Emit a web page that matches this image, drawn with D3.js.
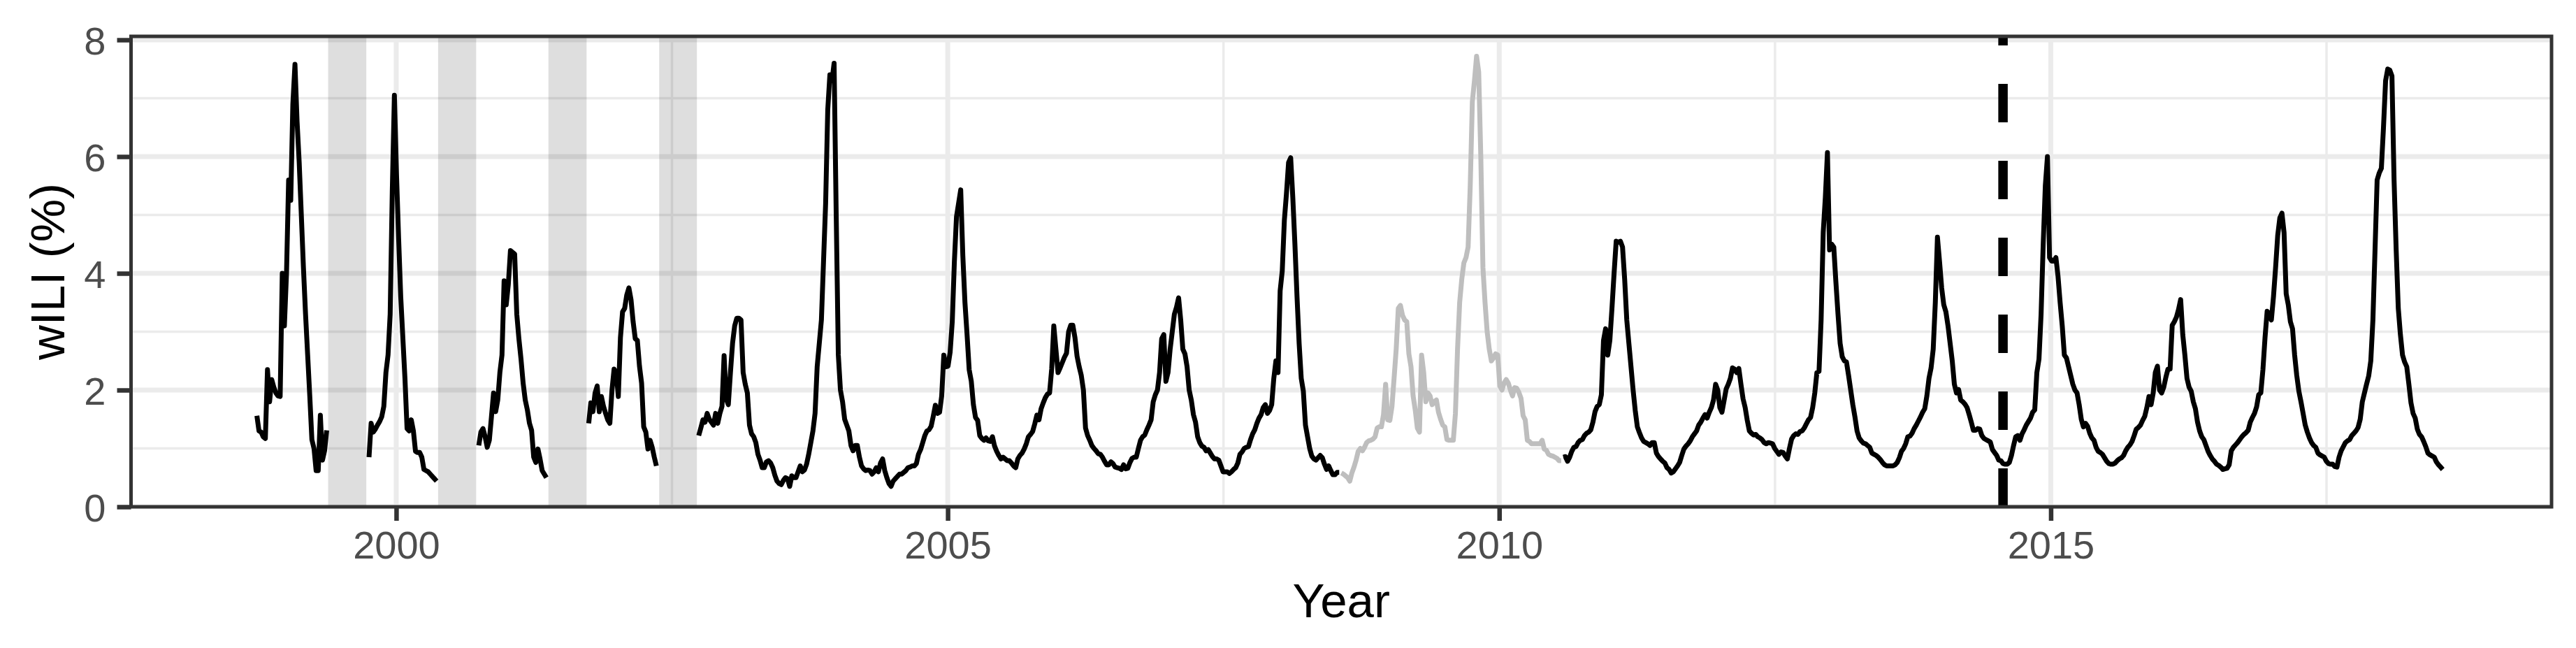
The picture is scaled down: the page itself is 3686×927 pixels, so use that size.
<!DOCTYPE html>
<html><head><meta charset="utf-8">
<script src="https://cdn.jsdelivr.net/npm/d3@7"></script>
<style>html,body{margin:0;padding:0;background:#fff;} svg{display:block;}</style>
</head><body>
<svg id="chart" width="3686" height="927"></svg>
<script>
// ---------------- DATA (weekly wILI %) ----------------
// early seasons: only reported from week 40 to week 20
const s1998 = [1.56,1.30,1.28,1.20,1.17,2.35,1.80,2.18,2.05,1.95,1.90,1.89,4.0,3.1,4.0,5.6,5.25,6.9,7.58,6.6,5.9,5.0,4.1,3.3,2.6,1.9,1.15,1.0,0.62,0.62,1.57,0.8,0.96,1.31];
const s1999 = [0.85,1.43,1.28,1.33,1.40,1.46,1.54,1.72,2.3,2.6,3.3,5.4,7.05,5.7,4.6,3.6,2.9,2.2,1.34,1.30,1.49,1.3,0.95,0.93,0.93,0.85,0.64,0.62,0.6,0.56,0.52,0.48,0.44];
const s2000 = [1.05,1.28,1.34,1.2,1.02,1.14,1.54,1.95,1.63,1.83,2.3,2.6,3.87,3.46,3.81,4.39,4.36,4.33,3.3,2.88,2.53,2.12,1.83,1.66,1.43,1.31,0.85,0.76,0.99,0.82,0.62,0.56,0.50];
const s2001 = [1.43,1.78,1.63,1.95,2.07,1.63,1.89,1.72,1.6,1.49,1.43,2.0,2.36,2.3,1.89,2.9,3.34,3.4,3.63,3.75,3.55,3.17,2.88,2.85,2.41,2.12,1.37,1.28,0.99,1.14,1.02,0.85,0.70];
// year-round reporting from week 40 of 2002
const s2002 = [1.22,1.35,1.49,1.45,1.6,1.5,1.45,1.4,1.6,1.43,1.6,1.72,2.59,1.85,1.75,2.3,2.8,3.1,3.23,3.23,3.2,2.3,2.1,1.95,1.4,1.25,1.2,1.1,0.9,0.8,0.67,0.67,0.77,0.79,0.75,0.67,0.54,0.44,0.4,0.38,0.45,0.5,0.48];
const s2003 = [0.35,0.53,0.5,0.5,0.6,0.7,0.6,0.63,0.73,0.9,1.1,1.3,1.6,2.4,2.8,3.2,4.2,5.2,6.8,7.4,7.3,7.6,5.0,2.6,2.0,1.8,1.5,1.4,1.3,1.05,0.96,1.05,1.05,0.85,0.7,0.65,0.62,0.63,0.62,0.56,0.6,0.67,0.6,0.75,0.82,0.62,0.5,0.4,0.35,0.44,0.48,0.52,0.56];
const s2004 = [0.56,0.59,0.62,0.67,0.68,0.7,0.7,0.74,0.9,0.98,1.1,1.22,1.3,1.32,1.38,1.55,1.74,1.6,1.62,1.9,2.6,2.4,2.41,2.65,3.17,4.2,4.97,5.2,5.43,4.3,3.5,2.95,2.35,2.15,1.75,1.53,1.48,1.22,1.17,1.14,1.18,1.13,1.12,1.2,1.04,0.95,0.88,0.82,0.85,0.82,0.79,0.79];
const s2005 = [0.75,0.7,0.67,0.82,0.88,0.92,0.99,1.08,1.2,1.24,1.29,1.42,1.57,1.49,1.68,1.78,1.87,1.93,1.95,2.36,3.1,2.7,2.3,2.38,2.47,2.56,2.63,3.0,3.11,3.11,2.9,2.58,2.4,2.25,2.0,1.35,1.22,1.14,1.05,1.0,0.96,0.91,0.9,0.85,0.78,0.72,0.72,0.77,0.74,0.68,0.67,0.66];
const s2006 = [0.64,0.72,0.65,0.66,0.76,0.83,0.85,0.85,1.0,1.14,1.2,1.23,1.32,1.4,1.49,1.8,1.92,2.0,2.3,2.88,2.95,2.15,2.3,2.7,3.0,3.3,3.42,3.58,3.2,2.7,2.62,2.4,2.0,1.83,1.58,1.45,1.2,1.1,1.04,1.02,0.96,0.98,0.92,0.86,0.82,0.82,0.8,0.7,0.6,0.6,0.6,0.57];
const s2007 = [0.6,0.64,0.67,0.75,0.9,0.94,1.0,1.02,1.03,1.15,1.25,1.32,1.43,1.52,1.58,1.7,1.75,1.6,1.65,1.75,2.2,2.5,2.3,3.7,4.04,4.91,5.37,5.9,5.98,5.3,4.5,3.6,2.8,2.2,1.98,1.4,1.2,1.0,0.87,0.82,0.8,0.84,0.88,0.84,0.73,0.64,0.7,0.62,0.55,0.55,0.59,0.59];
const s2008 = [0.58,0.56,0.53,0.5,0.44,0.58,0.68,0.8,0.95,1.0,0.96,1.02,1.1,1.13,1.14,1.16,1.2,1.35,1.37,1.37,1.58,2.1,1.49,1.48,1.72,2.2,2.7,3.4,3.45,3.28,3.2,3.17,2.62,2.4,1.9,1.66,1.35,1.28,2.6,2.3,1.8,1.95,1.9,1.75,1.8,1.83,1.62,1.5,1.4,1.37,1.15,1.14,1.14];
const s2009 = [1.14,1.6,2.7,3.5,3.9,4.18,4.27,4.45,5.5,6.94,7.3,7.72,7.45,6.0,4.1,3.5,3.0,2.7,2.5,2.55,2.62,2.6,2.07,2.0,2.12,2.18,2.12,2.0,1.9,2.04,2.03,1.96,1.86,1.56,1.49,1.14,1.12,1.08,1.08,1.08,1.08,1.08,1.14,0.99,0.97,0.9,0.88,0.87,0.85,0.83,0.79,0.79];
const s2010 = [0.85,0.86,0.78,0.85,0.95,1.02,1.03,1.1,1.14,1.15,1.22,1.26,1.28,1.32,1.45,1.63,1.72,1.75,1.92,2.85,3.05,2.6,2.85,3.4,4.0,4.55,4.53,4.55,4.45,3.9,3.2,2.8,2.4,2.0,1.65,1.37,1.27,1.18,1.12,1.1,1.08,1.05,1.1,1.1,0.92,0.86,0.82,0.78,0.75,0.67,0.64,0.58];
const s2011 = [0.6,0.65,0.7,0.76,0.88,0.99,1.04,1.08,1.13,1.2,1.25,1.3,1.4,1.45,1.52,1.58,1.52,1.62,1.7,1.83,2.1,2.0,1.7,1.62,1.82,2.02,2.1,2.2,2.38,2.36,2.3,2.37,2.1,1.85,1.7,1.48,1.3,1.26,1.23,1.24,1.2,1.18,1.15,1.1,1.08,1.1,1.09,1.08,1.0,0.95,0.9,0.94];
const s2012 = [0.93,0.87,0.82,1.0,1.16,1.22,1.25,1.24,1.29,1.3,1.35,1.42,1.49,1.53,1.7,1.95,2.3,2.32,3.2,4.7,5.3,6.07,4.4,4.5,4.45,3.85,3.3,2.8,2.57,2.5,2.48,2.25,2.0,1.75,1.54,1.3,1.18,1.13,1.09,1.08,1.05,1.02,0.92,0.9,0.88,0.85,0.81,0.76,0.72,0.7,0.7,0.7];
const s2013 = [0.7,0.72,0.76,0.84,0.95,1.0,1.08,1.2,1.21,1.26,1.34,1.4,1.47,1.54,1.62,1.68,1.9,2.2,2.38,2.7,3.5,4.62,4.2,3.75,3.46,3.34,3.1,2.8,2.5,2.1,1.95,2.01,1.83,1.8,1.76,1.7,1.58,1.45,1.31,1.31,1.34,1.33,1.22,1.17,1.15,1.13,1.11,0.98,0.93,0.88,0.8,0.79];
const s2014 = [0.74,0.73,0.73,0.76,0.88,1.05,1.2,1.22,1.14,1.25,1.32,1.4,1.46,1.52,1.62,1.66,2.3,2.53,3.3,4.5,5.5,6.0,4.27,4.21,4.21,4.27,3.95,3.5,3.1,2.6,2.55,2.4,2.25,2.1,2.0,1.95,1.75,1.5,1.37,1.43,1.38,1.26,1.18,1.14,1.02,0.95,0.93,0.9,0.84,0.78,0.74,0.73,0.73];
const s2015 = [0.75,0.79,0.82,0.84,0.88,0.96,1.02,1.06,1.12,1.22,1.33,1.36,1.4,1.48,1.55,1.7,1.89,1.75,1.95,2.3,2.41,2.0,1.95,2.05,2.22,2.36,2.36,3.11,3.17,3.25,3.38,3.55,2.95,2.6,2.2,2.05,1.98,1.8,1.68,1.45,1.3,1.2,1.15,1.05,0.95,0.88,0.82,0.78,0.73,0.71,0.68,0.64];
const s2016 = [0.65,0.66,0.72,0.96,1.02,1.06,1.1,1.15,1.2,1.24,1.27,1.31,1.45,1.53,1.6,1.71,1.92,1.95,2.35,2.9,3.35,3.3,3.2,3.6,4.1,4.65,4.95,5.03,4.7,3.65,3.46,3.17,3.05,2.6,2.25,1.98,1.8,1.6,1.4,1.28,1.18,1.1,1.05,1.02,0.92,0.89,0.87,0.85,0.78,0.74,0.73,0.73];
const s2017 = [0.69,0.68,0.85,0.96,1.03,1.1,1.13,1.15,1.22,1.26,1.3,1.36,1.5,1.8,1.95,2.1,2.24,2.5,3.2,4.4,5.6,5.72,5.8,6.5,7.3,7.5,7.48,7.38,5.6,4.4,3.4,2.95,2.6,2.48,2.4,2.1,1.78,1.6,1.52,1.33,1.24,1.2,1.12,1.03,0.92,0.89,0.87,0.85,0.77,0.72,0.68,0.64];

// first reported week of each block, and the block values
const seasonStarts = ["1998-09-27","1999-10-03","2000-10-01","2001-09-30","2002-09-29","2003-07-27","2004-08-01","2005-07-31","2006-07-30","2007-07-29","2008-07-27","2009-08-02","2010-08-01","2011-07-31","2012-07-29","2013-07-28","2014-07-27","2015-08-02","2016-07-31","2017-07-30"];
const seasonValues = [s1998,s1999,s2000,s2001,s2002,s2003,s2004,s2005,s2006,s2007,s2008,s2009,s2010,s2011,s2012,s2013,s2014,s2015,s2016,s2017];
// pandemic-affected seasons (drawn in grey)
const excludedSeasons = ["2008-07-27","2009-08-02"];
// off-season gaps with no reporting (decimal years)
const gapStart = [1999.383, 2000.380, 2001.380, 2002.384];
const gapEnd   = [1999.729, 2000.725, 2001.726, 2002.726];
// start of the test period
const testStart = "2014-07-27";
// axis ticks
const xMajor = [2000, 2005, 2010, 2015];
const xMinor = [2002.5, 2007.5, 2012.5, 2017.5];
const yMajor = [0, 2, 4, 6, 8];
const yMinor = [1, 3, 5, 7];
const xTitle = "Year";
const yTitle = "wILI (%)";

// ---------------- CHART ----------------
const parse = d3.utcParse("%Y-%m-%d");
function decYear(d) {
  const y = d.getUTCFullYear();
  const a = Date.UTC(y, 0, 1), b = Date.UTC(y + 1, 0, 1);
  return y + (d.getTime() - a) / (b - a);
}
const L = 187.5, R = 3651, T = 52, B = 725;
const x = d3.scaleLinear().domain([1997.596, 2019.54]).range([L, R]);
const y = d3.scaleLinear().domain([0, 8.06]).range([B, T]);

const svg = d3.select("#chart");
const FONT = "'Liberation Sans', Arial, Helvetica, sans-serif";
svg.append("rect").attr("width", 3686).attr("height", 927).attr("fill", "#fff");

const grid = svg.append("g");
grid.selectAll(".ymin").data(yMinor).join("line")
  .attr("x1", L).attr("x2", R).attr("y1", d => y(d)).attr("y2", d => y(d))
  .attr("stroke", "#EBEBEB").attr("stroke-width", 3.5);
grid.selectAll(".xmin").data(xMinor).join("line")
  .attr("y1", T).attr("y2", B).attr("x1", d => x(d)).attr("x2", d => x(d))
  .attr("stroke", "#EBEBEB").attr("stroke-width", 3.5);
grid.selectAll(".ymaj").data(yMajor).join("line")
  .attr("x1", L).attr("x2", R).attr("y1", d => y(d)).attr("y2", d => y(d))
  .attr("stroke", "#EBEBEB").attr("stroke-width", 7);
grid.selectAll(".xmaj").data(xMajor).join("line")
  .attr("y1", T).attr("y2", B).attr("x1", d => x(d)).attr("x2", d => x(d))
  .attr("stroke", "#EBEBEB").attr("stroke-width", 7);

// off-season shading
svg.append("g").selectAll("rect").data(gapStart.map((s, i) => [s, gapEnd[i]])).join("rect")
  .attr("x", d => x(d[0])).attr("width", d => x(d[1]) - x(d[0]))
  .attr("y", T).attr("height", B - T)
  .attr("fill", "#000").attr("fill-opacity", 0.13);

// build runs of consecutive weekly points
const runs = [];
seasonStarts.forEach((s, si) => {
  const start = parse(s);
  const grey = excludedSeasons.includes(s);
  const pts = seasonValues[si].map((v, i) => ({ t: d3.utcDay.offset(start, 7 * i), v }));
  const last = runs[runs.length - 1];
  if (last && last.grey === grey &&
      (pts[0].t - last.pts[last.pts.length - 1].t) <= 8 * 86400000) {
    last.pts = last.pts.concat(pts);
  } else {
    runs.push({ grey, pts });
  }
});
const line = d3.line().x(d => x(decYear(d.t))).y(d => y(d.v));
svg.append("g").selectAll("path").data(runs).join("path")
  .attr("d", d => line(d.pts))
  .attr("fill", "none")
  .attr("stroke", d => d.grey ? "#BEBEBE" : "#000")
  .attr("stroke-width", 7)
  .attr("stroke-linejoin", "round")
  .attr("stroke-linecap", "butt");

// test start marker
const vx = x(decYear(parse(testStart)));
svg.append("line").attr("x1", vx).attr("x2", vx).attr("y1", B).attr("y2", T)
  .attr("stroke", "#000").attr("stroke-width", 13.5).attr("stroke-dasharray", "55,55");

// panel border
svg.append("rect").attr("x", L).attr("y", T).attr("width", R - L).attr("height", B - T)
  .attr("fill", "none").attr("stroke", "#333333").attr("stroke-width", 5);

// axes
const xAxis = svg.append("g").attr("transform", `translate(0,${B})`)
  .call(d3.axisBottom(x).tickValues(xMajor).tickFormat(d3.format("d"))
    .tickSizeInner(20).tickSizeOuter(0).tickPadding(14));
const yAxis = svg.append("g").attr("transform", `translate(${L},0)`)
  .call(d3.axisLeft(y).tickValues(yMajor).tickFormat(d3.format("d"))
    .tickSizeInner(20).tickSizeOuter(0).tickPadding(16));
[xAxis, yAxis].forEach(g => {
  g.select(".domain").remove();
  g.selectAll(".tick line").attr("stroke", "#333333").attr("stroke-width", 6.5);
  g.selectAll(".tick text").attr("fill", "#4D4D4D").attr("font-size", 56)
    .attr("font-family", FONT);
});
yAxis.selectAll(".tick text").attr("dy", "0.36em");

svg.append("text").attr("x", (L + R) / 2).attr("y", 883)
  .attr("text-anchor", "middle").attr("font-family", FONT).attr("font-size", 69)
  .attr("fill", "#000").text(xTitle);
svg.append("text").attr("transform", `translate(92,${(T + B) / 2}) rotate(-90)`)
  .attr("text-anchor", "middle").attr("font-family", FONT).attr("font-size", 69)
  .attr("fill", "#000").text(yTitle);
</script>
</body></html>
